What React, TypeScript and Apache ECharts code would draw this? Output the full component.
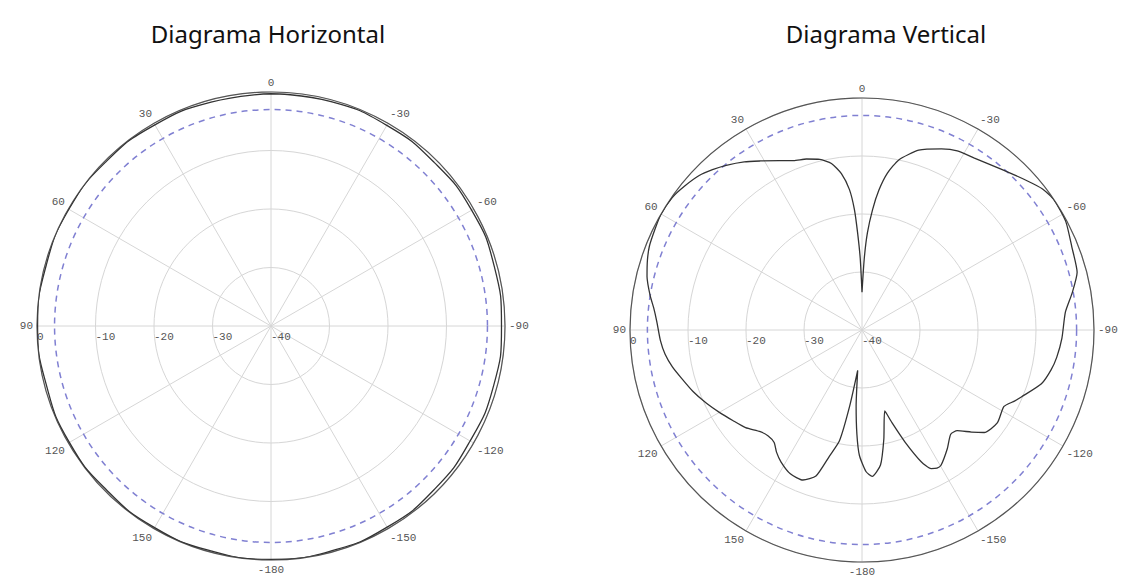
import React, { useEffect, useRef } from "react";
import * as echarts from "echarts";

// ---- data ----
const chartTitles = ["Diagrama Horizontal", "Diagrama Vertical"];

// radial scale (dB)
const radialMin = -40;
const radialMax = 0;
const radialStep = 10;
const halfPowerDb = -3;

// angle ticks every 30 degrees
const angleStep = 30;

// Horizontal pattern: antenna angle (deg, ccw from top) and gain (dB)
const hAngles = [0, 15, 30, 45, 60, 75, 90, 105, 120, 135, 150, 165, 180, -165, -150, -135, -120, -105, -90, -75, -60, -45, -30, -15];
const hGain = [-0.3, -0.4, -0.3, -0.2, -0.1, -0.2, -0.1, -0.3, -0.2, -0.3, -0.2, -0.2, -0.1, -0.2, -0.3, -0.5, -0.7, -0.6, -0.6, -0.5, -0.4, -0.5, -0.4, -0.3];

// Vertical pattern
const vAngles = [
  0, 1.4, 2.6, 3.6, 5.1, 7.5, 10.4, 13.9, 18, 22, 26, 31, 35, 39.5, 43, 46.5, 51, 55, 60, 64, 68.5, 72, 76, 80.8, 84, 87.7,
  93, 97, 101, 105, 110, 115, 120, 125, 130, 135, 138.5, 142, 145, 148.5, 153.5, 158.5, 162.5, 165.5, 168.5, 170.8, 173.9,
  175.6, 177.2, 178.8, -178.4, -176, -172.2, -168.7, -164.3, -162.1, -159, -155.8, -153.5, -151.5, -149.7, -144.3, -139.6,
  -136.6, -133, -130, -124.5, -118.3, -115, -112.8, -106.7, -102, -98, -92.3, -85, -80, -75, -68.5, -62, -56, -52, -48, -41,
  -33, -28, -23.7, -17.5, -12.2, -9.2, -6.9, -5, -3.2, -1.8,
];
const vGain = [
  -33.5, -27.7, -23.2, -19.2, -15.7, -12.8, -10.8, -9.7, -9.0, -8.5, -7.5, -6.0, -4.6, -3.2, -2.2, -1.3, -0.6, -0.1, 0, -0.3, -0.6, -1.1, -1.8, -3.0, -3.9, -4.6,
  -5.2, -5.8, -6.7, -7.8, -9.0, -10.3, -11.6, -12.8, -13.8, -15.2, -15.6, -15.4, -14.3, -13.3, -12.3, -12.2, -13.6, -17.5, -20.5, -26.7, -33.0,
  -26.8, -22.0, -18.4, -15.6, -14.7, -16.5, -20.8, -25.5, -23.2, -19.3, -15.1, -13.3, -12.9, -13.0, -14.8, -16.4,
  -16.1, -14.2, -12.5, -11.7, -12.2, -11.0, -10.2, -7.7, -6.7, -6.1, -5.5, -4.8, -3.2, -1.6, -1.1, -0.2, 0, -0.5, -1.6, -3.3,
  -4.6, -5.0, -5.9, -7.5, -10.0, -12.6, -15.7, -19.2, -23.2, -27.7,
];

// ---- layout / style ----
const layouts = [
  { cx: 271, cy: 326, r: 234, titleX: 268 },
  { cx: 862, cy: 330, r: 232, titleX: 886 },
];
const labelFont = "Liberation Mono";
const labelColor = "#555";

// antenna angle -> axis value (axis runs 90..450 counter-clockwise starting at the left)
const toAxisAngle = (a: number) => (a < 90 ? a + 360 : a);

const angleLabel = (v: number) => {
  let a = ((v % 360) + 360) % 360;
  if (a > 180) a -= 360;
  if (a === 180) a = -180;
  return String(a);
};

function patternData(angles: number[], gains: number[]) {
  const pts = angles.map((a, i) => [gains[i], toAxisAngle(a)]);
  pts.push(pts[0]);
  return pts;
}

export default function App() {
  const ref = useRef<HTMLDivElement>(null);

  useEffect(() => {
    document.body.style.margin = "0";
    if (!ref.current) return;
    const chart = echarts.init(ref.current, undefined, { renderer: "svg" });

    const polar: any[] = [];
    const angleAxis: any[] = [];
    const radiusAxis: any[] = [];
    const series: any[] = [];
    const graphic: any[] = [];
    const patterns = [
      { angles: hAngles, gains: hGain, smooth: 0.5 },
      { angles: vAngles, gains: vGain, smooth: 0.2 },
    ];

    layouts.forEach((L, i) => {
      const main = polar.length;
      polar.push({ center: [L.cx, L.cy], radius: L.r });
      angleAxis.push({
        polarIndex: main,
        type: "value",
        min: 90,
        max: 450,
        interval: angleStep,
        startAngle: 180,
        clockwise: false,
        axisLine: { show: true, lineStyle: { color: "#555", width: 1.2 } },
        axisTick: { show: false },
        axisLabel: { margin: 4, color: labelColor, fontSize: 11, fontFamily: labelFont, formatter: angleLabel },
        splitLine: { show: true, lineStyle: { color: "#d6d6d6", width: 1 } },
      });
      radiusAxis.push({
        polarIndex: main,
        type: "value",
        min: radialMin,
        max: radialMax,
        interval: radialStep,
        axisLine: { show: false },
        axisTick: { show: false },
        axisLabel: {
          align: "left",
          verticalAlign: "top",
          margin: 5,
          color: labelColor,
          fontSize: 11,
          fontFamily: labelFont,
          formatter: (v: number) => String(v),
        },
        splitLine: { show: true, lineStyle: { color: "#d6d6d6", width: 1 } },
      });

      // -3 dB reference circle as a second polar's angle axis line
      const ref3 = polar.length;
      polar.push({
        center: [L.cx, L.cy],
        radius: (L.r * (halfPowerDb - radialMin)) / (radialMax - radialMin),
      });
      angleAxis.push({
        polarIndex: ref3,
        type: "value",
        min: 0,
        max: 360,
        startAngle: 90,
        axisLine: { show: true, lineStyle: { color: "#8080d2", width: 1.5, type: [6, 5] } },
        axisTick: { show: false },
        axisLabel: { show: false },
        splitLine: { show: false },
      });
      radiusAxis.push({ polarIndex: ref3, type: "value", show: false });

      const p = patterns[i];
      series.push({
        type: "line",
        coordinateSystem: "polar",
        polarIndex: main,
        data: patternData(p.angles, p.gains),
        showSymbol: false,
        symbol: "none",
        smooth: p.smooth,
        clip: false,
        silent: true,
        lineStyle: { color: "#333", width: 1.3 },
        z: 5,
      });

      graphic.push({
        type: "text",
        x: L.titleX,
        y: 33,
        style: {
          text: chartTitles[i],
          fontSize: 24,
          fontFamily: "Noto Sans",
          fill: "#111",
          align: "center",
          verticalAlign: "middle",
        },
      });
    });

    chart.setOption({
      animation: false,
      backgroundColor: "#fff",
      polar,
      angleAxis,
      radiusAxis,
      series,
      graphic,
    });

    return () => chart.dispose();
  }, []);

  return <div ref={ref} style={{ width: 1122, height: 581 }} />;
}
